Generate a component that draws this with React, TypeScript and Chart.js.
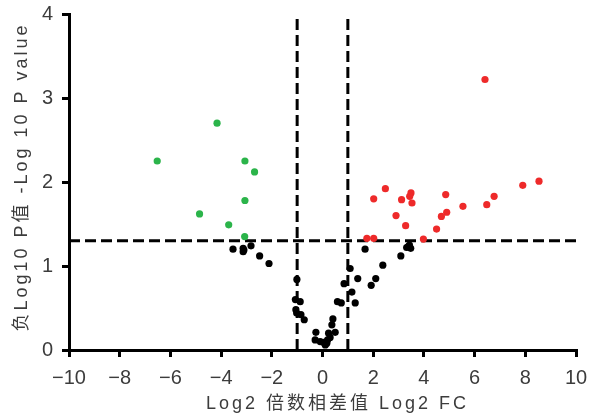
import React, { useEffect, useRef } from 'react';
import { Chart, registerables } from 'chart.js';

Chart.register(...registerables);

// Non-significant genes
const nsLog2FC = [
  -3.53, -3.13, -3.13, -3.1, -2.82, -2.48, -2.11,
  -1.01, -1.07, -0.88, -1.05, -1.02, -0.85, -0.72,
  -0.26, -0.29, -0.09, 0.11, 0.17, 0.3, 0.24, 0.5, 0.37, 0.41, 0.05, 0.2,
  0.59, 0.74, 0.85, 1.09, 1.16, 1.29, 1.39, 1.68, 1.92, 2.1, 2.38, 3.09, 3.32, 3.43, 3.48, 3.38,
];
const nsNegLogP = [
  1.2, 1.21, 1.17, 1.19, 1.24, 1.12, 1.03,
  0.84, 0.6, 0.575, 0.48, 0.44, 0.42, 0.36,
  0.21, 0.12, 0.1, 0.06, 0.08, 0.15, 0.2, 0.21, 0.3, 0.37, 0.09, 0.12,
  0.575, 0.56, 0.79, 0.97, 0.69, 0.56, 0.85, 1.2, 0.77, 0.85, 1.01, 1.12, 1.22, 1.25, 1.21, 1.23,
];

// Down-regulated (significant)
const downLog2FC = [-4.16, -6.52, -3.06, -2.68, -3.06, -4.85, -3.7, -3.07];
const downNegLogP = [2.7, 2.25, 2.25, 2.12, 1.78, 1.62, 1.49, 1.35];

// Up-regulated (significant)
const upLog2FC = [
  6.41, 8.54, 7.9, 6.77, 6.48, 5.54, 4.86, 4.9, 4.69, 4.5, 3.98,
  3.49, 3.44, 3.53, 3.12, 2.48, 2.02, 2.9, 3.28, 1.75, 2.02,
];
const upNegLogP = [
  3.22, 2.01, 1.96, 1.83, 1.73, 1.71, 1.85, 1.64, 1.59, 1.44, 1.32,
  1.87, 1.83, 1.75, 1.79, 1.92, 1.8, 1.6, 1.48, 1.33, 1.33,
];

const pThreshold = 1.301;
const fcThreshold = 1;
const xMin = -10;
const xMax = 10;
const yMin = 0;
const yMax = 4;

const xTitle = 'Log2 倍数相差值 Log2 FC';
const yTitle = '负Log10 P值 -Log 10 P value';

const toPts = (xs: number[], ys: number[]) => xs.map((x, i) => ({ x, y: ys[i] }));

const TEXT = '#3c3c3c';
const FONT = '"Liberation Sans", "Noto Sans CJK SC", sans-serif';

const titlePlugin = {
  id: 'axisTitles',
  afterDraw(chart: any) {
    const { ctx, chartArea } = chart;
    ctx.save();
    ctx.fillStyle = TEXT;
    ctx.font = `18px ${FONT}`;
    try { (ctx as any).letterSpacing = '3px'; } catch (e) {}
    ctx.textAlign = 'center';
    ctx.textBaseline = 'middle';
    const cx = (chartArea.left + chartArea.right) / 2 + 15;
    ctx.fillText(xTitle, cx, 404);
    ctx.translate(22, (chartArea.top + chartArea.bottom) / 2 - 5);
    ctx.rotate(-Math.PI / 2);
    ctx.fillText(yTitle, 0, 0);
    ctx.restore();
  },
};

export default function App() {
  const ref = useRef<HTMLCanvasElement>(null);
  useEffect(() => {
    document.body.style.margin = '0';
    const dash = [11, 5];
    const lineStyle = {
      type: 'line' as const,
      borderColor: '#000',
      borderWidth: 3,
      borderDash: dash,
      pointRadius: 0,
      showLine: true,
      fill: false,
      clip: false as any,
    };
    const chart = new Chart(ref.current!, {
      type: 'scatter',
      data: {
        datasets: [
          { data: toPts(upLog2FC, upNegLogP), backgroundColor: '#ee2a2a', borderWidth: 0, pointRadius: 3.6, clip: false as any },
          { data: toPts(downLog2FC, downNegLogP), backgroundColor: '#2bb44a', borderWidth: 0, pointRadius: 3.6, clip: false as any },
          { data: toPts(nsLog2FC, nsNegLogP), backgroundColor: '#000', borderWidth: 0, pointRadius: 3.6, clip: false as any },
          { ...lineStyle, data: [{ x: xMin, y: pThreshold }, { x: xMax, y: pThreshold }] },
          { ...lineStyle, data: [{ x: -fcThreshold, y: yMin }, { x: -fcThreshold, y: yMax }] },
          { ...lineStyle, data: [{ x: fcThreshold, y: yMin }, { x: fcThreshold, y: yMax }] },
        ] as any,
      },
      plugins: [titlePlugin],
      options: {
        animation: false,
        responsive: false,
        layout: { autoPadding: false, padding: { left: 0, right: 13, top: 14, bottom: 0 } } as any,
        plugins: { legend: { display: false }, tooltip: { enabled: false } },
        scales: {
          x: {
            type: 'linear',
            min: xMin,
            max: xMax,
            border: { color: '#000', width: 3 },
            grid: { drawOnChartArea: false, drawTicks: true, tickLength: 7, color: '#000', lineWidth: 3 },
            ticks: {
              stepSize: 2,
              color: TEXT,
              font: { size: 20, family: FONT },
              padding: 9,
              maxRotation: 0,
              callback: (v: any) => String(v).replace('-', '−'),
            },
            afterFit: (s: any) => {
              s.height = 65;
              s.paddingLeft = 0;
              s.paddingRight = 0;
            },
          },
          y: {
            type: 'linear',
            min: yMin,
            max: yMax,
            border: { color: '#000', width: 3 },
            grid: { drawOnChartArea: false, drawTicks: true, tickLength: 7, color: '#000', lineWidth: 3 },
            ticks: {
              stepSize: 1,
              color: TEXT,
              font: { size: 20, family: FONT },
              padding: 9,
            },
            afterFit: (s: any) => {
              s.width = 69;
              s.paddingTop = 0;
              s.paddingBottom = 0;
            },
          },
        },
      },
    });
    return () => chart.destroy();
  }, []);
  return <canvas ref={ref} width={589} height={415} style={{ display: 'block' }} />;
}
